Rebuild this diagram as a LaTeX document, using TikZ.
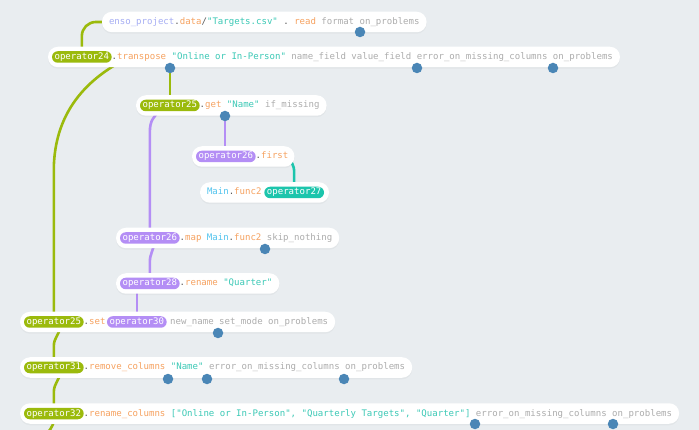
\documentclass[tikz,border=0pt]{standalone}
\usepackage{fontspec}
\setmonofont{DejaVu Sans Mono}
\usetikzlibrary{calc,fit,shadows}
\definecolor{bgc}{HTML}{E9EDF0}
\definecolor{grn}{HTML}{9BBA0C}
\definecolor{prp}{HTML}{B48EF5}
\definecolor{tea}{HTML}{1CC5AC}
\definecolor{dotc}{HTML}{4A86B6}
\definecolor{orn}{HTML}{F6A260}
\definecolor{str}{HTML}{3CC9B6}
\definecolor{prm}{HTML}{ADADAD}
\definecolor{peri}{HTML}{A6AEF4}
\definecolor{cyn}{HTML}{52C4EE}
\definecolor{punc}{HTML}{5A5A5A}
\pgfdeclarelayer{back}
\pgfdeclarelayer{conn}
\pgfdeclarelayer{boxes}
\pgfsetlayers{back,conn,boxes,main}
\begin{document}
\begin{tikzpicture}[x=1pt,y=-1pt,
  font=\ttfamily\fontsize{9.05}{11}\selectfont,
  tok/.style={inner sep=0pt, outer sep=0pt, text height=6.8pt, text depth=1.8pt, anchor=west},
  pill/.style={tok, inner xsep=2.6pt, inner ysep=1.45pt, rounded corners=5.75pt, text=white, fill=#1},
  rowbox/.style={fill=white, rounded corners=10pt, inner sep=0pt, minimum height=20.5pt,
    drop shadow={opacity=0.07, shadow xshift=0pt, shadow yshift=-1.5pt}},
  dotn/.style={circle, fill=dotc, minimum size=10.5pt, inner sep=0pt},
  gline/.style={draw=grn, line width=2.6pt},
  pline/.style={draw=prp, line width=2.6pt},
  tline/.style={draw=tea, line width=2.6pt}]
\useasboundingbox (0,0) rectangle (699,430);
\begin{pgfonlayer}{back}
\fill[bgc] (0,0) rectangle (699,430);
\end{pgfonlayer}

% Row 1
\node[tok] (t1) at (109,22) {\color{peri}enso\_project\color{punc}.\color{orn}data\color{punc}/\color{str}"Targets.csv" \color{punc}. \color{orn}read \color{prm}format on\_problems};
\coordinate (r1l) at ($(t1.west)+(-7,0)$);
\coordinate (r1r) at ($(t1.east)+(7,0)$);

% Row 2
\node[pill=grn] (p24) at (52,57) {operator24};
\node[tok] (t2) at (p24.east) {\color{punc}.\color{orn}transpose \color{str}"Online or In-Person" \color{prm}name\_field value\_field error\_on\_missing\_columns on\_problems};
\coordinate (r2l) at ($(p24.west)+(-4,0)$);
\coordinate (r2r) at ($(t2.east)+(7,0)$);

% Row 3
\node[pill=grn] (p25a) at (140,105.5) {operator25};
\node[tok] (t3) at (p25a.east) {\color{punc}.\color{orn}get \color{str}"Name" \color{prm}if\_missing};
\coordinate (r3l) at ($(p25a.west)+(-4,0)$);
\coordinate (r3r) at ($(t3.east)+(7,0)$);

% Row 4
\node[pill=prp] (p26a) at (196,156.5) {operator26};
\node[tok] (t4) at (p26a.east) {\color{punc}.\color{orn}first};
\coordinate (r4l) at ($(p26a.west)+(-4,0)$);
\coordinate (r4r) at ($(t4.east)+(6,0)$);

% Row 5
\node[tok] (t5) at (207,192.5) {\color{cyn}Main\color{punc}.\color{orn}func2};
\node[pill=tea] (p27) at ($(t5.east)+(2.85,0)$) {operator27};
\coordinate (r5l) at ($(t5.west)+(-7,0)$);
\coordinate (r5r) at ($(p27.east)+(5,0)$);

% Row 6
\node[pill=prp] (p26b) at (120,238) {operator26};
\node[tok] (t6) at (p26b.east) {\color{punc}.\color{orn}map \color{cyn}Main\color{punc}.\color{orn}func2 \color{prm}skip\_nothing};
\coordinate (r6l) at ($(p26b.west)+(-4,0)$);
\coordinate (r6r) at ($(t6.east)+(7,0)$);

% Row 7
\node[pill=prp] (p28) at (120,283.5) {operator28};
\node[tok] (t7) at (p28.east) {\color{punc}.\color{orn}rename \color{str}"Quarter"};
\coordinate (r7l) at ($(p28.west)+(-4,0)$);
\coordinate (r7r) at ($(t7.east)+(7,0)$);

% Row 8
\node[pill=grn] (p25b) at (24,322) {operator25};
\node[tok] (t8a) at (p25b.east) {\color{punc}.\color{orn}set};
\node[pill=prp] (p30) at ($(t8a.east)+(1.5,0)$) {operator30};
\node[tok] (t8b) at ($(p30.east)+(3.5,0)$) {\color{prm}new\_name set\_mode on\_problems};
\coordinate (r8l) at ($(p25b.west)+(-4,0)$);
\coordinate (r8r) at ($(t8b.east)+(7,0)$);

% Row 9
\node[pill=grn] (p31) at (24,367.5) {operator31};
\node[tok] (t9) at (p31.east) {\color{punc}.\color{orn}remove\_columns \color{str}"Name" \color{prm}error\_on\_missing\_columns on\_problems};
\coordinate (r9l) at ($(p31.west)+(-4,0)$);
\coordinate (r9r) at ($(t9.east)+(7,0)$);

% Row 10
\node[pill=grn] (p32) at (24,413.5) {operator32};
\node[tok] (t10) at (p32.east) {\color{punc}.\color{orn}rename\_columns \color{str}["Online or In-Person", "Quarterly Targets", "Quarter"] \color{prm}error\_on\_missing\_columns on\_problems};
\coordinate (r10l) at ($(p32.west)+(-4,0)$);
\coordinate (r10r) at ($(t10.east)+(7,0)$);

\begin{pgfonlayer}{boxes}
\node[rowbox, fit=(r1l)(r1r)] (r1) {};
\node[rowbox, fit=(r2l)(r2r)] (r2) {};
\node[rowbox, fit=(r3l)(r3r)] (r3) {};
\node[rowbox, fit=(r4l)(r4r)] (r4) {};
\node[rowbox, fit=(r5l)(r5r)] (r5) {};
\node[rowbox, fit=(r6l)(r6r)] (r6) {};
\node[rowbox, fit=(r7l)(r7r)] (r7) {};
\node[rowbox, fit=(r8l)(r8r)] (r8) {};
\node[rowbox, fit=(r9l)(r9r)] (r9) {};
\node[rowbox, fit=(r10l)(r10r)] (r10) {};
\end{pgfonlayer}

% dots
\node[dotn] (d1) at (360,32) {};
\node[dotn] (d2a) at (170,68) {};
\node[dotn] (d2b) at (417,68) {};
\node[dotn] (d2c) at (553,68) {};
\node[dotn] (d3) at (225,116) {};
\node[dotn] (d6) at (265,249) {};
\node[dotn] (d8) at (218,333) {};
\node[dotn] (d9a) at (168,379) {};
\node[dotn] (d9b) at (207,379) {};
\node[dotn] (d9c) at (344,379) {};
\node[dotn] (d10a) at (475,424) {};
\node[dotn] (d10b) at (613,424) {};

\coordinate (gend) at ($(p32.south)+(-9,18)$);

\begin{pgfonlayer}{conn}
\draw[gline, rounded corners=14pt] (r1.west) -| (p24.north);
\draw[gline] ($(p24.east)+(18,0)$) .. controls +(-30,15) and +(2,-65) .. ($(p25b.north)+(0,-150)$) -- (p25b.north);
\draw[gline] (d2a.center) -- (d2a.center |- p25a.north);
\draw[pline] (d3.center) -- (d3.center |- p26a.north);
\draw[pline] ($(p25a.south)+(-11,0)$) .. controls +(-5,6) and +(0,-12) .. ($(p26b.north)+(0,-100)$) -- (p26b.north);
\draw[tline] ($(r4.east)+(-7,0)$) .. controls +(4,6) and +(0,-8) .. ($(p27.north)+(0,-14)$) -- (p27.north);
\draw[pline] ($(p26b.south)+(4,0)$) .. controls +(0,6) and +(0,-8) .. ($(p28.north)+(0,-16)$) -- (p28.north);
\draw[pline] (p30.north |- p28.south) -- (p30.north);
\draw[gline] ($(p25b.south)+(6,0)$) .. controls +(0,6) and +(0,-8) .. ($(p31.north)+(0,-16)$) -- (p31.north);
\draw[gline] ($(p31.south)+(6,0)$) .. controls +(0,6) and +(0,-8) .. ($(p32.north)+(0,-16)$) -- (p32.north);
\draw[gline] (p32.south) .. controls +(0,8) and +(3,-6) .. (gend);
\end{pgfonlayer}
\end{tikzpicture}
\end{document}
